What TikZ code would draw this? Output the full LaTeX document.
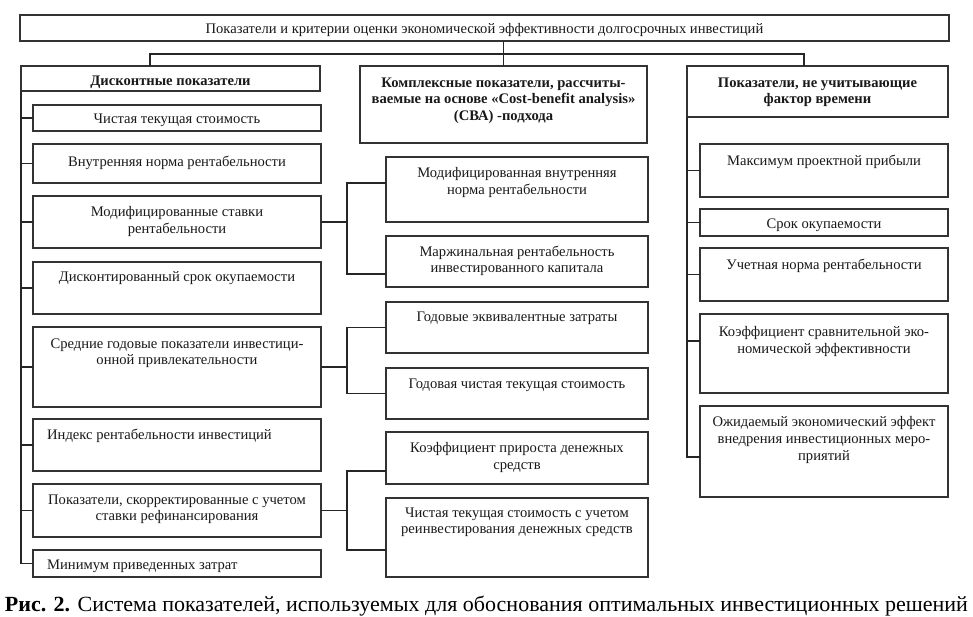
\documentclass[tikz,border=0pt]{standalone}
\usepackage{fontspec}
\setmainfont{Liberation Serif}
\begin{document}
\begin{tikzpicture}[x=1pt,y=-1pt,
  box/.style={draw=black!80,line width=1.4pt,inner sep=0pt,outer sep=0pt,rectangle,anchor=north west},
  txt/.style={inner sep=0pt,align=center,anchor=north,font=\fontsize{14.6}{16.6}\selectfont,text=black!90},
  hdr/.style={txt,font=\fontsize{14.6}{16.6}\selectfont\bfseries},
  con/.style={draw=black!85,line width=1.4pt}]
\useasboundingbox[fill=white] (0,0) rectangle (973,616);
\newcommand\bx[5]{\node[box,minimum width={#4-#2},minimum height={#5-#3}] (#1) at (#2,#3) {};}
% boxes
\bx{top}{20}{15}{949}{41}
\bx{LH}{21}{66}{320}{91}
\bx{MH}{360}{66}{647}{143}
\bx{RH}{687}{66}{948}{117}
\bx{L1}{33}{105}{321}{131}
\bx{L2}{33}{144}{321}{183}
\bx{L3}{33}{196}{321}{248}
\bx{L4}{33}{262}{321}{314}
\bx{L5}{33}{327}{321}{407}
\bx{L6}{33}{419}{321}{471}
\bx{L7}{33}{484}{321}{537}
\bx{L8}{33}{550}{321}{577}
\bx{M1}{386}{157}{648}{222}
\bx{M2}{386}{236}{648}{287}
\bx{M3}{386}{302}{648}{353}
\bx{M4}{386}{368}{648}{419}
\bx{M5}{386}{432}{648}{484}
\bx{M6}{386}{498}{648}{577}
\bx{R1}{700}{144}{948}{197}
\bx{R2}{700}{209}{948}{236}
\bx{R3}{700}{248}{948}{301}
\bx{R4}{700}{314}{948}{393}
\bx{R5}{700}{406}{948}{497}
% texts
\node[txt] at (top.north |- 0,23) {Показатели и критерии оценки экономической эффективности долгосрочных инвестиций};
\node[hdr] at (LH.north |- 0,75.5) {Дисконтные показатели};
\node[hdr] at (MH.north |- 0,77.5) {Комплексные показатели, рассчиты-\\ваемые на основе «Cost-benefit analysis»\\(СВА) -подхода};
\node[hdr] at (RH.north |- 0,77.5) {Показатели, не учитывающие\\фактор времени};
\node[txt] at (L1.north |- 0,114) {Чистая текущая стоимость};
\node[txt] at (L2.north |- 0,155.5) {Внутренняя норма рентабельности};
\node[txt] at (L3.north |- 0,206.5) {Модифицированные ставки\\рентабельности};
\node[txt] at (L4.north |- 0,271.5) {Дисконтированный срок окупаемости};
\node[txt] at (L5.north |- 0,338.5) {Средние годовые показатели инвестици-\\онной привлекательности};
\node[txt,anchor=north west] at (47,429) {Индекс рентабельности инвестиций};
\node[txt] at (L7.north |- 0,494.5) {Показатели, скорректированные с учетом\\ставки рефинансирования};
\node[txt,anchor=north west] at (47,560) {Минимум приведенных затрат};
\node[txt] at (M1.north |- 0,167.5) {Модифицированная внутренняя\\норма рентабельности};
\node[txt] at (M2.north |- 0,245.5) {Маржинальная рентабельность\\инвестированного капитала};
\node[txt] at (M3.north |- 0,311.5) {Годовые эквивалентные затраты};
\node[txt] at (M4.north |- 0,378.5) {Годовая чистая текущая стоимость};
\node[txt] at (M5.north |- 0,442.5) {Коэффициент прироста денежных\\средств};
\node[txt] at (M6.north |- 0,507.5) {Чистая текущая стоимость с учетом\\реинвестирования денежных средств};
\node[txt] at (R1.north |- 0,154.5) {Максимум проектной прибыли};
\node[txt] at (R2.north |- 0,219) {Срок окупаемости};
\node[txt] at (R3.north |- 0,258.5) {Учетная норма рентабельности};
\node[txt] at (R4.north |- 0,326.5) {Коэффициент сравнительной эко-\\номической эффективности};
\node[txt] at (R5.north |- 0,416.5) {Ожидаемый экономический эффект\\внедрения инвестиционных меро-\\приятий};
% top connectors
\coordinate (hl) at (150,54);
\coordinate (hr) at (804,54);
\draw[con] (top.south -| MH.north) -- (MH.north);
\draw[con] (hl |- LH.north) -- (hl) -- (hr) -- (hr |- RH.north);
% left spine
\draw[con] (LH.south west) -- (LH.south west |- L8.west) -- (L8.west);
\foreach \b in {L1,L2,L3,L4,L5,L6,L7} \draw[con] (LH.south west |- \b.west) -- (\b.west);
% right spine
\coordinate (r5t) at ([yshift=-5.5pt]R5.west);
\draw[con] (RH.south west) -- (RH.south west |- r5t) -- (r5t);
\foreach \b in {R1,R2,R3} \draw[con] (RH.south west |- \b.west) -- (\b.west);
\draw[con] (RH.south west |- 0,341) -- (R4.west |- 0,341);
% brackets
\coordinate (b1) at (347,222);
\coordinate (b2) at (347,367);
\coordinate (b3) at (347,510.5);
\draw[con] (L3.east) -- (b1);
\draw[con] (M1.west |- 0,183) -| (b1) |- (M2.west |- 0,274);
\draw[con] (L5.east) -- (b2);
\draw[con] (M3.west) -| (b2) |- (M4.west);
\draw[con] (L7.east) -- (b3);
\draw[con] (M5.west |- 0,471) -| (b3) |- (M6.west |- 0,550);
% caption
\node[anchor=base,inner sep=0pt] (cap) at (486.5,611) {\resizebox{963pt}{15.5pt}{\fontsize{20}{22}\selectfont\textbf{Рис. 2.} Система показателей, используемых для обоснования оптимальных инвестиционных решений}};
\end{tikzpicture}
\end{document}
